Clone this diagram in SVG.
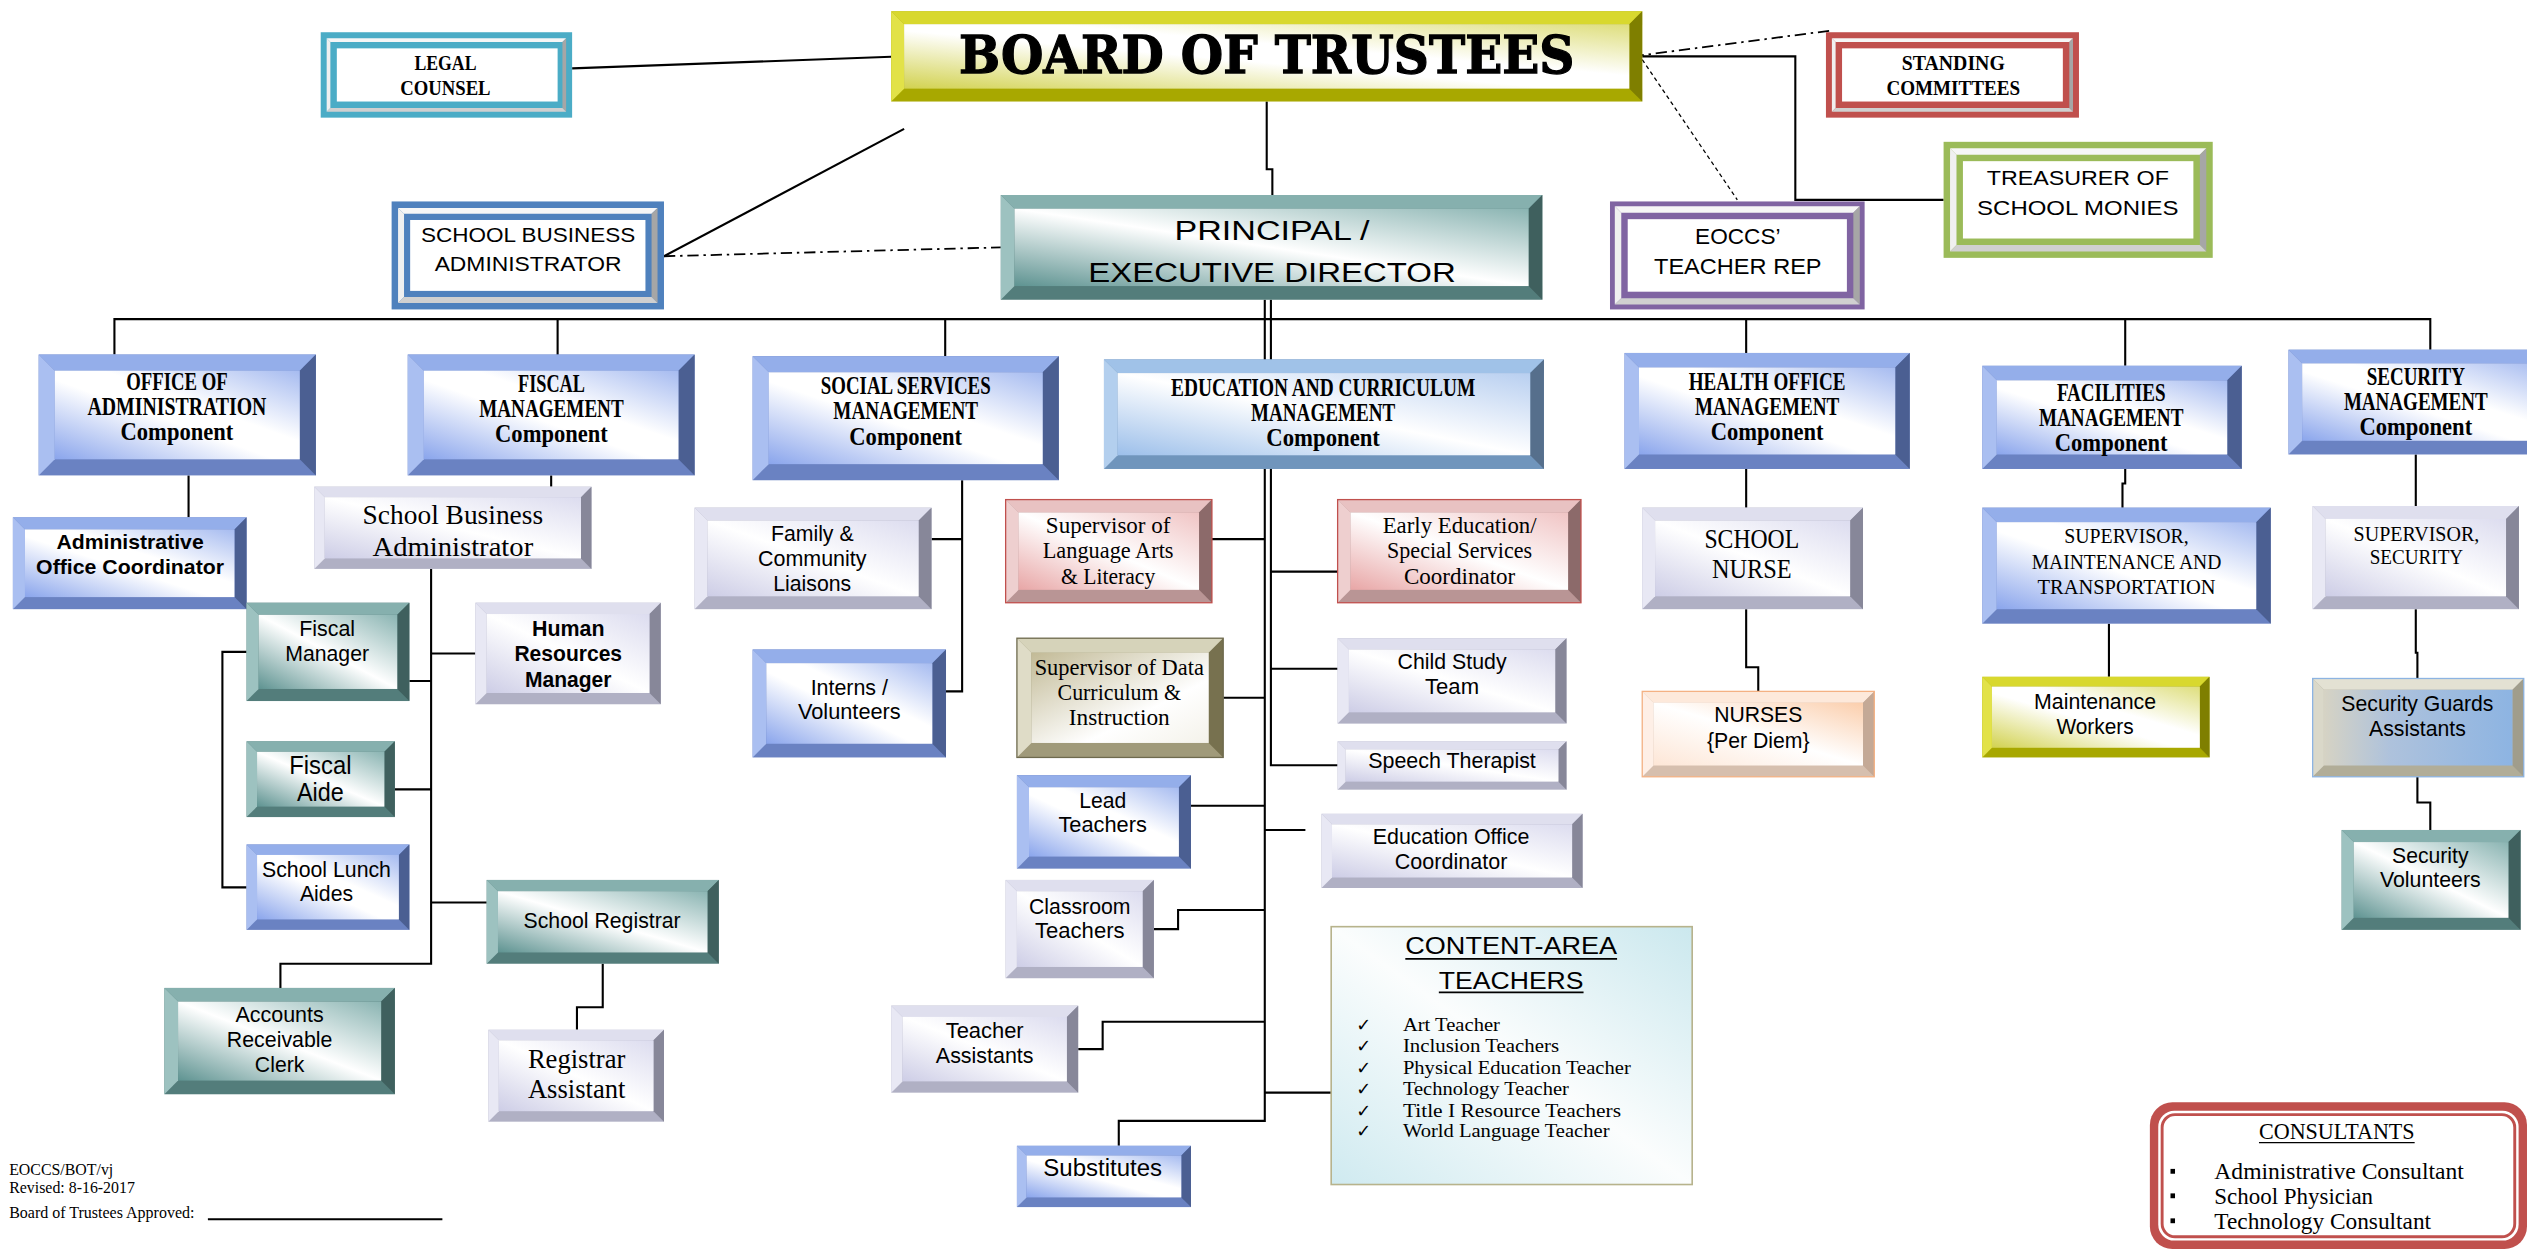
<svg xmlns="http://www.w3.org/2000/svg" width="2527" height="1250" viewBox="0 0 2527 1250">
<defs>
<linearGradient id="gBlue" x1="0" y1="1" x2="1" y2="0"><stop offset="0" stop-color="#8aa5ec"/><stop offset="0.45" stop-color="#ffffff"/><stop offset="0.6" stop-color="#ffffff"/><stop offset="1" stop-color="#a6bbf0"/></linearGradient>
<linearGradient id="gLav" x1="0" y1="1" x2="1" y2="0"><stop offset="0" stop-color="#cdcde6"/><stop offset="0.5" stop-color="#ffffff"/><stop offset="1" stop-color="#dcdcef"/></linearGradient>
<linearGradient id="gTeal" x1="0" y1="1" x2="1" y2="0"><stop offset="0" stop-color="#5e9391"/><stop offset="0.5" stop-color="#ffffff"/><stop offset="1" stop-color="#8ab4b2"/></linearGradient>
<linearGradient id="gPink" x1="0" y1="1" x2="1" y2="0"><stop offset="0" stop-color="#e8a6a6"/><stop offset="0.5" stop-color="#ffffff"/><stop offset="1" stop-color="#f0c4c4"/></linearGradient>
<linearGradient id="gKhaki" x1="0" y1="0" x2="1" y2="1"><stop offset="0" stop-color="#c2ba96"/><stop offset="0.65" stop-color="#ffffff"/><stop offset="1" stop-color="#f4f2ea"/></linearGradient>
<linearGradient id="gYel" x1="0" y1="1" x2="1" y2="0"><stop offset="0" stop-color="#d2d250"/><stop offset="0.45" stop-color="#ffffff"/><stop offset="0.6" stop-color="#ffffff"/><stop offset="1" stop-color="#dede7c"/></linearGradient>
<linearGradient id="gPeach" x1="0" y1="1" x2="1" y2="0"><stop offset="0" stop-color="#fde6d6"/><stop offset="0.5" stop-color="#ffffff"/><stop offset="1" stop-color="#fbceac"/></linearGradient>
<linearGradient id="gGuard" x1="0" y1="0" x2="1" y2="0"><stop offset="0" stop-color="#d6d3c4"/><stop offset="0.35" stop-color="#aec2dc"/><stop offset="1" stop-color="#8db4e2"/></linearGradient>
<linearGradient id="gEdu" x1="0" y1="1" x2="1" y2="0"><stop offset="0" stop-color="#9cbfea"/><stop offset="0.5" stop-color="#ffffff"/><stop offset="1" stop-color="#b8cff0"/></linearGradient>
<linearGradient id="gContent" x1="0" y1="1" x2="1" y2="0"><stop offset="0" stop-color="#cfeaf0"/><stop offset="0.5" stop-color="#fbfdfd"/><stop offset="1" stop-color="#cbe8ee"/></linearGradient>
<style>
.cn{fill:none;stroke:#000;stroke-width:1.3}
.dd{stroke-dasharray:7 3 1.5 3;stroke-width:1.1}
.dt{stroke-dasharray:2.5 2;stroke-width:0.8}
.blue .bg{fill:#6a82c2}.blue .bt{fill:#94aeea}.blue .bl{fill:#aabff1}.blue .br{fill:#4b5f92}.blue .fc{fill:url(#gBlue)}
.lav .bg{fill:#b0b0c4}.lav .bt{fill:#dfdfee}.lav .bl{fill:#e8e8f4}.lav .br{fill:#878799}.lav .fc{fill:url(#gLav)}
.teal .bg{fill:#537d7b}.teal .bt{fill:#86b0ae}.teal .bl{fill:#9dc2c0}.teal .br{fill:#3f605e}.teal .fc{fill:url(#gTeal)}
.pink .bg{fill:#b99595}.pink .bt{fill:#e8c2c2}.pink .bl{fill:#eecfcf}.pink .br{fill:#8c6a6a}.pink .fc{fill:url(#gPink)}.pink .ol{fill:none;stroke:#c0504d;stroke-width:0.8}
.khaki .bg{fill:#a09a7a}.khaki .bt{fill:#d6d3ba}.khaki .bl{fill:#dfdcc7}.khaki .br{fill:#77714f}.khaki .fc{fill:url(#gKhaki)}.khaki .ol{fill:none;stroke:#6e6a4e;stroke-width:0.8}
.yel .bg{fill:#a8a800}.yel .bt{fill:#d8d82e}.yel .bl{fill:#e2e248}.yel .br{fill:#7f7f00}.yel .fc{fill:url(#gYel)}
.peach .bg{fill:#d6bfae}.peach .bt{fill:#fde9db}.peach .bl{fill:#feefe6}.peach .br{fill:#c4a996}.peach .fc{fill:url(#gPeach)}.peach .ol{fill:none;stroke:#f4b183;stroke-width:0.8}
.guard .bg{fill:#b1ad98}.guard .bt{fill:#e3e1d3}.guard .bl{fill:#dad8c9}.guard .br{fill:#a09d8c}.guard .fc{fill:url(#gGuard)}.guard .ol{fill:none;stroke:#8db4e2;stroke-width:0.8}
.edu .bg{fill:#7095bc}.edu .bt{fill:#a0c2e8}.edu .bl{fill:#b3cfee}.edu .br{fill:#566f8c}.edu .fc{fill:url(#gEdu)}
.fr .rt{fill:#f6f6f6}.fr .rl{fill:#f0f0f0}.fr .rr{fill:#a6a6a6}.fr .rb{fill:#d0d0d0}.fr .fw{fill:#ffffff}
text{fill:#000;text-anchor:middle}
.tc{font-family:"Liberation Serif","Times New Roman",serif;font-weight:bold;font-size:15px}
.ts{font-family:"Liberation Sans",Arial,sans-serif;font-size:14px}
.tsb{font-family:"Liberation Sans",Arial,sans-serif;font-size:14px;font-weight:bold}
.tr{font-family:"Liberation Serif","Times New Roman",serif;font-size:14px}
.tl{font-family:"Liberation Sans",Arial,sans-serif;font-size:13px}
.ft{font-family:"Liberation Serif","Times New Roman",serif;font-size:10px;text-anchor:start}
.li{font-family:"Liberation Serif","Times New Roman",serif;font-size:12px;text-anchor:start}
.ck{font-family:"DejaVu Sans",sans-serif;font-size:11px;text-anchor:start}
</style>
</defs>
<rect x="0" y="0" width="2527" height="1250" fill="#ffffff"/>
<g transform="scale(1.6116)">
<g id="connectors">
<path class="cn" d="M355,42.4 L553,35.2"/>
<path class="cn" d="M412,159 L561,80"/>
<path class="cn dd" d="M412,159 L621,153.5"/>
<path class="cn dd" d="M1013,35 L1136,19"/>
<path class="cn dt" d="M1019,37 L1078,124"/>
<path class="cn" d="M1019,35 H1114 V124 H1206"/>
<path class="cn" d="M786,63 V105 H789.5 V121"/>
<path class="cn" d="M784.8,186 V695.5 H694.2 V711"/>
<path class="cn" d="M788.6,186 V474.8 H830"/>
<path class="cn" d="M71,220 V198 H1508 V217"/>
<path class="cn" d="M346,198 V221 M586.5,198 V221 M1083.5,198 V219 M1318.7,198 V227"/>
<path class="cn" d="M117,295 V321"/>
<path class="cn" d="M342,295 V302"/>
<path class="cn" d="M267.5,353 V598 H174 V613"/>
<path class="cn" d="M267.5,422.6 H254 M267.5,405.5 H295 M267.5,489.8 H245 M267.5,560 H302"/>
<path class="cn" d="M153,404.5 H138 V550.6 H153"/>
<path class="cn" d="M374,598 V625 H358 V639"/>
<path class="cn" d="M597,298 V429 H587 M597,334.5 H578"/>
<path class="cn" d="M784.8,334.5 H752 M788.6,354.7 H830 M788.6,415 H830 M784.8,433 H759 M784.8,500 H739 M784.8,515 H810"/>
<path class="cn" d="M784.8,564.7 H731 V576.5 H716"/>
<path class="cn" d="M784.8,634 H684.2 V651 H669"/>
<path class="cn" d="M784.8,678 H826"/>
<path class="cn" d="M1083.5,291 V315 M1083.5,378 V414 H1091 V429"/>
<path class="cn" d="M1318.7,291 V300 H1317 V315 M1308.6,387 V420"/>
<path class="cn" d="M1499,282 V314 M1499,378 V405 H1500 V421 M1500,482 V498 H1508 V515"/>
</g>

<g id="legal-counsel" class="fr">
<rect x="199" y="20" width="156" height="53" fill="#4bacc6"/>
<polygon class="rt" points="202.7,23.7 351.3,23.7 349,26 205,26"/>
<polygon class="rl" points="202.7,23.7 205,26 205,67 202.7,69.3"/>
<polygon class="rr" points="351.3,23.7 351.3,69.3 349,67 349,26"/>
<polygon class="rb" points="202.7,69.3 205,67 349,67 351.3,69.3"/>
<rect class="fw" x="209" y="30" width="137" height="33"/>
<text class="tc" style="font-size:13.5px" x="276.4" y="43.2" textLength="38.5" lengthAdjust="spacingAndGlyphs">LEGAL</text>
<text class="tc" style="font-size:13.5px" x="276.4" y="58.7" textLength="56" lengthAdjust="spacingAndGlyphs">COUNSEL</text>
</g>

<g id="standing-committees" class="fr">
<rect x="1133" y="20" width="157" height="53" fill="#c0504d"/>
<polygon class="rt" points="1136.7,23.7 1286.3,23.7 1284,26 1139,26"/>
<polygon class="rl" points="1136.7,23.7 1139,26 1139,67 1136.7,69.3"/>
<polygon class="rr" points="1286.3,23.7 1286.3,69.3 1284,67 1284,26"/>
<polygon class="rb" points="1136.7,69.3 1139,67 1284,67 1286.3,69.3"/>
<rect class="fw" x="1143" y="30" width="137" height="33"/>
<text class="tc" style="font-size:13.5px" x="1212" y="43.2" textLength="64" lengthAdjust="spacingAndGlyphs">STANDING</text>
<text class="tc" style="font-size:13.5px" x="1212" y="58.7" textLength="83" lengthAdjust="spacingAndGlyphs">COMMITTEES</text>
</g>

<g id="treasurer" class="fr">
<rect x="1206" y="88" width="167" height="72" fill="#9bbb59"/>
<polygon class="rt" points="1210,92 1369,92 1365,96 1214,96"/>
<polygon class="rl" points="1210,92 1214,96 1214,152 1210,156"/>
<polygon class="rr" points="1369,92 1369,156 1365,152 1365,96"/>
<polygon class="rb" points="1210,156 1214,152 1365,152 1369,156"/>
<rect class="fw" x="1218" y="100" width="143" height="48"/>
<text class="tl" x="1289.3" y="114.8" textLength="113" lengthAdjust="spacingAndGlyphs">TREASURER OF</text>
<text class="tl" x="1289.3" y="133.5" textLength="125" lengthAdjust="spacingAndGlyphs">SCHOOL MONIES</text>
</g>

<g id="eoccs-rep" class="fr">
<rect x="999" y="125" width="158" height="67" fill="#8064a2"/>
<polygon class="rt" points="1002,128 1154,128 1150,132 1006,132"/>
<polygon class="rl" points="1002,128 1006,132 1006,185 1002,189"/>
<polygon class="rr" points="1154,128 1154,189 1150,185 1150,132"/>
<polygon class="rb" points="1002,189 1006,185 1150,185 1154,189"/>
<rect class="fw" x="1010" y="136" width="136" height="45"/>
<text class="tl" style="font-size:13.5px" x="1078.3" y="151.2" textLength="53" lengthAdjust="spacingAndGlyphs">EOCCS’</text>
<text class="tl" style="font-size:13.5px" x="1078.3" y="170.3" textLength="104" lengthAdjust="spacingAndGlyphs">TEACHER REP</text>
</g>

<g id="sba-top" class="fr">
<rect x="243" y="125" width="169" height="67" fill="#4f81bd"/>
<polygon class="rt" points="247,129 408,129 404.3,132.7 250.7,132.7"/>
<polygon class="rl" points="247,129 250.7,132.7 250.7,184.3 247,188"/>
<polygon class="rr" points="408,129 408,188 404.3,184.3 404.3,132.7"/>
<polygon class="rb" points="247,188 250.7,184.3 404.3,184.3 408,188"/>
<rect class="fw" x="254.5" y="136.5" width="146" height="44"/>
<text class="tl" x="327.7" y="150.4" textLength="133" lengthAdjust="spacingAndGlyphs">SCHOOL BUSINESS</text>
<text class="tl" x="327.7" y="168" textLength="116" lengthAdjust="spacingAndGlyphs">ADMINISTRATOR</text>
</g>

<g id="board" class="yel">
<rect class="bg" x="553" y="7" width="466" height="56"/>
<polygon class="bt" points="553,7 1019,7 1011,15 561,15"/>
<polygon class="bl" points="553,7 561,15 561,55 553,63"/>
<polygon class="br" points="1019,7 1019,63 1011,55 1011,15"/>
<rect class="fc" x="561" y="15" width="450" height="40"/>
<text x="786" y="45.5" style="font-family:'DejaVu Serif','Liberation Serif',serif;font-weight:bold;font-size:33px;stroke:#000;stroke-width:0.8" textLength="382" lengthAdjust="spacingAndGlyphs">BOARD OF TRUSTEES</text>
</g>

<g id="principal" class="teal">
<rect class="bg" x="621" y="121" width="336" height="65"/>
<polygon class="bt" points="621,121 957,121 948.5,129.5 629.5,129.5"/>
<polygon class="bl" points="621,121 629.5,129.5 629.5,177.5 621,186"/>
<polygon class="br" points="957,121 957,186 948.5,177.5 948.5,129.5"/>
<rect class="fc" x="629.5" y="129.5" width="319" height="48"/>
<text class="tl" style="font-size:17px" x="789.3" y="148.9" textLength="121" lengthAdjust="spacingAndGlyphs">PRINCIPAL /</text>
<text class="tl" style="font-size:17px" x="789.3" y="174.8" textLength="228" lengthAdjust="spacingAndGlyphs">EXECUTIVE DIRECTOR</text>
</g>

<g id="office-admin" class="blue">
<rect class="bg" x="24" y="220" width="172" height="75"/>
<polygon class="bt" points="24,220 196,220 186,230 34,230"/>
<polygon class="bl" points="24,220 34,230 34,285 24,295"/>
<polygon class="br" points="196,220 196,295 186,285 186,230"/>
<rect class="fc" x="34" y="230" width="152" height="55"/>
<text class="tc" x="109.8" y="242.2" textLength="63" lengthAdjust="spacingAndGlyphs">OFFICE OF</text>
<text class="tc" x="109.8" y="257.8" textLength="111" lengthAdjust="spacingAndGlyphs">ADMINISTRATION</text>
<text class="tc" x="109.8" y="273.3" textLength="70" lengthAdjust="spacingAndGlyphs">Component</text>
</g>

<g id="fiscal-mgmt" class="blue">
<rect class="bg" x="253" y="220" width="178" height="75"/>
<polygon class="bt" points="253,220 431,220 421,230 263,230"/>
<polygon class="bl" points="253,220 263,230 263,285 253,295"/>
<polygon class="br" points="431,220 431,295 421,285 421,230"/>
<rect class="fc" x="263" y="230" width="158" height="55"/>
<text class="tc" x="342.2" y="243.5" textLength="41.5" lengthAdjust="spacingAndGlyphs">FISCAL</text>
<text class="tc" x="342.2" y="258.8" textLength="89.6" lengthAdjust="spacingAndGlyphs">MANAGEMENT</text>
<text class="tc" x="342.2" y="274.3" textLength="70" lengthAdjust="spacingAndGlyphs">Component</text>
</g>

<g id="social-services" class="blue">
<rect class="bg" x="467" y="221" width="190" height="77"/>
<polygon class="bt" points="467,221 657,221 647,231 477,231"/>
<polygon class="bl" points="467,221 477,231 477,288 467,298"/>
<polygon class="br" points="657,221 657,298 647,288 647,231"/>
<rect class="fc" x="477" y="231" width="170" height="57"/>
<text class="tc" x="562" y="244.3" textLength="105.4" lengthAdjust="spacingAndGlyphs">SOCIAL SERVICES</text>
<text class="tc" x="562" y="260" textLength="89.8" lengthAdjust="spacingAndGlyphs">MANAGEMENT</text>
<text class="tc" x="562" y="276" textLength="70" lengthAdjust="spacingAndGlyphs">Component</text>
</g>

<g id="education" class="edu">
<rect class="bg" x="685" y="223" width="273" height="68"/>
<polygon class="bt" points="685,223 958,223 949.5,231.5 693.5,231.5"/>
<polygon class="bl" points="685,223 693.5,231.5 693.5,282.5 685,291"/>
<polygon class="br" points="958,223 958,291 949.5,282.5 949.5,231.5"/>
<rect class="fc" x="693.5" y="231.5" width="256" height="51"/>
<text class="tc" x="821" y="246" textLength="188.8" lengthAdjust="spacingAndGlyphs">EDUCATION AND CURRICULUM</text>
<text class="tc" x="821" y="261" textLength="89.4" lengthAdjust="spacingAndGlyphs">MANAGEMENT</text>
<text class="tc" x="821" y="277" textLength="70.5" lengthAdjust="spacingAndGlyphs">Component</text>
</g>

<g id="health-office" class="blue">
<rect class="bg" x="1008" y="219" width="177" height="72"/>
<polygon class="bt" points="1008,219 1185,219 1176,228 1017,228"/>
<polygon class="bl" points="1008,219 1017,228 1017,282 1008,291"/>
<polygon class="br" points="1185,219 1185,291 1176,282 1176,228"/>
<rect class="fc" x="1017" y="228" width="159" height="54"/>
<text class="tc" x="1096.5" y="242.2" textLength="97.4" lengthAdjust="spacingAndGlyphs">HEALTH OFFICE</text>
<text class="tc" x="1096.5" y="257.8" textLength="89.6" lengthAdjust="spacingAndGlyphs">MANAGEMENT</text>
<text class="tc" x="1096.5" y="273.3" textLength="70" lengthAdjust="spacingAndGlyphs">Component</text>
</g>

<g id="facilities" class="blue">
<rect class="bg" x="1230" y="227" width="161" height="64"/>
<polygon class="bt" points="1230,227 1391,227 1382,236 1239,236"/>
<polygon class="bl" points="1230,227 1239,236 1239,282 1230,291"/>
<polygon class="br" points="1391,227 1391,291 1382,282 1382,236"/>
<rect class="fc" x="1239" y="236" width="143" height="46"/>
<text class="tc" x="1310" y="249" textLength="67.4" lengthAdjust="spacingAndGlyphs">FACILITIES</text>
<text class="tc" x="1310" y="264.6" textLength="89.6" lengthAdjust="spacingAndGlyphs">MANAGEMENT</text>
<text class="tc" x="1310" y="280" textLength="70" lengthAdjust="spacingAndGlyphs">Component</text>
</g>

<g id="security-mgmt" class="blue">
<rect class="bg" x="1420" y="217" width="165" height="65"/>
<polygon class="bt" points="1420,217 1585,217 1576.5,225.5 1428.5,225.5"/>
<polygon class="bl" points="1420,217 1428.5,225.5 1428.5,273.5 1420,282"/>
<polygon class="br" points="1585,217 1585,282 1576.5,273.5 1576.5,225.5"/>
<rect class="fc" x="1428.5" y="225.5" width="148" height="48"/>
<text class="tc" x="1499" y="238.7" textLength="61" lengthAdjust="spacingAndGlyphs">SECURITY</text>
<text class="tc" x="1499" y="254.2" textLength="89.2" lengthAdjust="spacingAndGlyphs">MANAGEMENT</text>
<text class="tc" x="1499" y="270.2" textLength="70" lengthAdjust="spacingAndGlyphs">Component</text>
</g>

<g id="admin-office-coord" class="blue">
<rect class="bg" x="8" y="321" width="145" height="57"/>
<polygon class="bt" points="8,321 153,321 145.5,328.5 15.5,328.5"/>
<polygon class="bl" points="8,321 15.5,328.5 15.5,370.5 8,378"/>
<polygon class="br" points="153,321 153,378 145.5,370.5 145.5,328.5"/>
<rect class="fc" x="15.5" y="328.5" width="130" height="42"/>
<text class="tsb" style="font-size:13px" x="80.7" y="340.8" textLength="91.4" lengthAdjust="spacingAndGlyphs">Administrative</text>
<text class="tsb" style="font-size:13px" x="80.7" y="356.3" textLength="116.6" lengthAdjust="spacingAndGlyphs">Office Coordinator</text>
</g>

<g id="school-business-admin" class="lav">
<rect class="bg" x="195" y="302" width="172" height="51"/>
<polygon class="bt" points="195,302 367,302 360.5,308.5 201.5,308.5"/>
<polygon class="bl" points="195,302 201.5,308.5 201.5,346.5 195,353"/>
<polygon class="br" points="367,302 367,353 360.5,346.5 360.5,308.5"/>
<rect class="fc" x="201.5" y="308.5" width="159" height="38"/>
<text class="tr" style="font-size:17px" x="281" y="324.9" textLength="112" lengthAdjust="spacingAndGlyphs">School Business</text>
<text class="tr" style="font-size:17px" x="281" y="345" textLength="99.7" lengthAdjust="spacingAndGlyphs">Administrator</text>
</g>

<g id="fiscal-manager" class="teal">
<rect class="bg" x="153" y="374" width="101" height="61"/>
<polygon class="bt" points="153,374 254,374 246.5,381.5 160.5,381.5"/>
<polygon class="bl" points="153,374 160.5,381.5 160.5,427.5 153,435"/>
<polygon class="br" points="254,374 254,435 246.5,427.5 246.5,381.5"/>
<rect class="fc" x="160.5" y="381.5" width="86" height="46"/>
<text class="ts" x="203" y="394.5" textLength="34.7" lengthAdjust="spacingAndGlyphs">Fiscal</text>
<text class="ts" x="203" y="410.4" textLength="52" lengthAdjust="spacingAndGlyphs">Manager</text>
</g>

<g id="hr-manager" class="lav">
<rect class="bg" x="295" y="374" width="115" height="63"/>
<polygon class="bt" points="295,374 410,374 403,381 302,381"/>
<polygon class="bl" points="295,374 302,381 302,430 295,437"/>
<polygon class="br" points="410,374 410,437 403,430 403,381"/>
<rect class="fc" x="302" y="381" width="101" height="49"/>
<text class="tsb" x="352.6" y="394.5" textLength="45" lengthAdjust="spacingAndGlyphs">Human</text>
<text class="tsb" x="352.6" y="410.4" textLength="66.8" lengthAdjust="spacingAndGlyphs">Resources</text>
<text class="tsb" x="352.6" y="426.3" textLength="53.7" lengthAdjust="spacingAndGlyphs">Manager</text>
</g>

<g id="fiscal-aide" class="teal">
<rect class="bg" x="153" y="460" width="92" height="47"/>
<polygon class="bt" points="153,460 245,460 238.5,466.5 159.5,466.5"/>
<polygon class="bl" points="153,460 159.5,466.5 159.5,500.5 153,507"/>
<polygon class="br" points="245,460 245,507 238.5,500.5 238.5,466.5"/>
<rect class="fc" x="159.5" y="466.5" width="79" height="34"/>
<text class="ts" style="font-size:16px" x="198.8" y="480.4" textLength="38.6" lengthAdjust="spacingAndGlyphs">Fiscal</text>
<text class="ts" style="font-size:16px" x="198.8" y="496.9" textLength="29" lengthAdjust="spacingAndGlyphs">Aide</text>
</g>

<g id="school-lunch-aides" class="blue">
<rect class="bg" x="153" y="524" width="101" height="53"/>
<polygon class="bt" points="153,524 254,524 247.5,530.5 159.5,530.5"/>
<polygon class="bl" points="153,524 159.5,530.5 159.5,570.5 153,577"/>
<polygon class="br" points="254,524 254,577 247.5,570.5 247.5,530.5"/>
<rect class="fc" x="159.5" y="530.5" width="88" height="40"/>
<text class="ts" x="202.6" y="544.2" textLength="80" lengthAdjust="spacingAndGlyphs">School Lunch</text>
<text class="ts" x="202.6" y="558.9" textLength="33" lengthAdjust="spacingAndGlyphs">Aides</text>
</g>

<g id="school-registrar" class="teal">
<rect class="bg" x="302" y="546" width="144" height="52"/>
<polygon class="bt" points="302,546 446,546 439,553 309,553"/>
<polygon class="bl" points="302,546 309,553 309,591 302,598"/>
<polygon class="br" points="446,546 446,598 439,591 439,553"/>
<rect class="fc" x="309" y="553" width="130" height="38"/>
<text class="ts" x="373.6" y="575.9" textLength="97.5" lengthAdjust="spacingAndGlyphs">School Registrar</text>
</g>

<g id="registrar-assistant" class="lav">
<rect class="bg" x="303" y="639" width="109" height="57"/>
<polygon class="bt" points="303,639 412,639 405.5,645.5 309.5,645.5"/>
<polygon class="bl" points="303,639 309.5,645.5 309.5,689.5 303,696"/>
<polygon class="br" points="412,639 412,696 405.5,689.5 405.5,645.5"/>
<rect class="fc" x="309.5" y="645.5" width="96" height="44"/>
<text class="tr" style="font-size:17px" x="357.8" y="662.5" textLength="60.5" lengthAdjust="spacingAndGlyphs">Registrar</text>
<text class="tr" style="font-size:17px" x="357.8" y="681.1" textLength="60.5" lengthAdjust="spacingAndGlyphs">Assistant</text>
</g>

<g id="accounts-receivable" class="teal">
<rect class="bg" x="102" y="613" width="143" height="66"/>
<polygon class="bt" points="102,613 245,613 236.5,621.5 110.5,621.5"/>
<polygon class="bl" points="102,613 110.5,621.5 110.5,670.5 102,679"/>
<polygon class="br" points="245,613 245,679 236.5,670.5 236.5,621.5"/>
<rect class="fc" x="110.5" y="621.5" width="126" height="49"/>
<text class="ts" x="173.5" y="634.2" textLength="54.8" lengthAdjust="spacingAndGlyphs">Accounts</text>
<text class="ts" x="173.5" y="649.7" textLength="65.5" lengthAdjust="spacingAndGlyphs">Receivable</text>
<text class="ts" x="173.5" y="665.2" textLength="30.7" lengthAdjust="spacingAndGlyphs">Clerk</text>
</g>

<g id="family-liaisons" class="lav">
<rect class="bg" x="431" y="315" width="147" height="63"/>
<polygon class="bt" points="431,315 578,315 570,323 439,323"/>
<polygon class="bl" points="431,315 439,323 439,370 431,378"/>
<polygon class="br" points="578,315 578,378 570,370 570,323"/>
<rect class="fc" x="439" y="323" width="131" height="47"/>
<text class="ts" style="font-size:13.5px" x="504" y="335.7" textLength="51.3" lengthAdjust="spacingAndGlyphs">Family &amp;</text>
<text class="ts" style="font-size:13.5px" x="504" y="351.2" textLength="67.3" lengthAdjust="spacingAndGlyphs">Community</text>
<text class="ts" style="font-size:13.5px" x="504" y="366.7" textLength="48.4" lengthAdjust="spacingAndGlyphs">Liaisons</text>
</g>

<g id="interns" class="blue">
<rect class="bg" x="467" y="403" width="120" height="67"/>
<polygon class="bt" points="467,403 587,403 578.5,411.5 475.5,411.5"/>
<polygon class="bl" points="467,403 475.5,411.5 475.5,461.5 467,470"/>
<polygon class="br" points="587,403 587,470 578.5,461.5 578.5,411.5"/>
<rect class="fc" x="475.5" y="411.5" width="103" height="50"/>
<text class="ts" style="font-size:13.5px" x="527" y="431.5" textLength="48" lengthAdjust="spacingAndGlyphs">Interns /</text>
<text class="ts" style="font-size:13.5px" x="527" y="446.4" textLength="63.8" lengthAdjust="spacingAndGlyphs">Volunteers</text>
</g>

<g id="sup-language-arts" class="pink">
<rect class="bg" x="624" y="310" width="128" height="64"/>
<polygon class="bt" points="624,310 752,310 744,318 632,318"/>
<polygon class="bl" points="624,310 632,318 632,366 624,374"/>
<polygon class="br" points="752,310 752,374 744,366 744,318"/>
<rect class="fc" x="632" y="318" width="112" height="48"/>
<rect class="ol" x="624" y="310" width="128" height="64"/>
<text class="tr" x="687.6" y="331" textLength="77.3" lengthAdjust="spacingAndGlyphs">Supervisor of</text>
<text class="tr" x="687.6" y="346.5" textLength="81.2" lengthAdjust="spacingAndGlyphs">Language Arts</text>
<text class="tr" x="687.6" y="362.6" textLength="58.4" lengthAdjust="spacingAndGlyphs">&amp; Literacy</text>
</g>

<g id="early-education" class="pink">
<rect class="bg" x="830" y="310" width="151" height="64"/>
<polygon class="bt" points="830,310 981,310 973,318 838,318"/>
<polygon class="bl" points="830,310 838,318 838,366 830,374"/>
<polygon class="br" points="981,310 981,374 973,366 973,318"/>
<rect class="fc" x="838" y="318" width="135" height="48"/>
<rect class="ol" x="830" y="310" width="151" height="64"/>
<text class="tr" x="905.7" y="331" textLength="95.5" lengthAdjust="spacingAndGlyphs">Early Education/</text>
<text class="tr" x="905.7" y="346.5" textLength="90" lengthAdjust="spacingAndGlyphs">Special Services</text>
<text class="tr" x="905.7" y="362.6" textLength="69" lengthAdjust="spacingAndGlyphs">Coordinator</text>
</g>

<g id="sup-data" class="khaki">
<rect class="bg" x="631" y="396" width="128" height="74"/>
<polygon class="bt" points="631,396 759,396 750,405 640,405"/>
<polygon class="bl" points="631,396 640,405 640,461 631,470"/>
<polygon class="br" points="759,396 759,470 750,461 750,405"/>
<rect class="fc" x="640" y="405" width="110" height="56"/>
<rect class="ol" x="631" y="396" width="128" height="74"/>
<text class="tr" x="694.5" y="418.9" textLength="105" lengthAdjust="spacingAndGlyphs">Supervisor of Data</text>
<text class="tr" x="694.5" y="434.4" textLength="76.6" lengthAdjust="spacingAndGlyphs">Curriculum &amp;</text>
<text class="tr" x="694.5" y="449.9" textLength="62.7" lengthAdjust="spacingAndGlyphs">Instruction</text>
</g>

<g id="child-study" class="lav">
<rect class="bg" x="830" y="396" width="142" height="53"/>
<polygon class="bt" points="830,396 972,396 965,403 837,403"/>
<polygon class="bl" points="830,396 837,403 837,442 830,449"/>
<polygon class="br" points="972,396 972,449 965,442 965,403"/>
<rect class="fc" x="837" y="403" width="128" height="39"/>
<text class="ts" style="font-size:13.5px" x="901" y="415.4" textLength="67.7" lengthAdjust="spacingAndGlyphs">Child Study</text>
<text class="ts" style="font-size:13.5px" x="901" y="430.9" textLength="33.5" lengthAdjust="spacingAndGlyphs">Team</text>
</g>

<g id="speech-therapist" class="lav">
<rect class="bg" x="830" y="460" width="142" height="30"/>
<polygon class="bt" points="830,460 972,460 967,465 835,465"/>
<polygon class="bl" points="830,460 835,465 835,485 830,490"/>
<polygon class="br" points="972,460 972,490 967,485 967,465"/>
<rect class="fc" x="835" y="465" width="132" height="20"/>
<text class="ts" style="font-size:13.5px" x="901" y="476.4" textLength="104" lengthAdjust="spacingAndGlyphs">Speech Therapist</text>
</g>

<g id="lead-teachers" class="blue">
<rect class="bg" x="631" y="481" width="108" height="58"/>
<polygon class="bt" points="631,481 739,481 731.5,488.5 638.5,488.5"/>
<polygon class="bl" points="631,481 638.5,488.5 638.5,531.5 631,539"/>
<polygon class="br" points="739,481 739,539 731.5,531.5 731.5,488.5"/>
<rect class="fc" x="638.5" y="488.5" width="93" height="43"/>
<text class="ts" style="font-size:13.5px" x="684.2" y="501.6" textLength="29.2" lengthAdjust="spacingAndGlyphs">Lead</text>
<text class="ts" style="font-size:13.5px" x="684.2" y="516.3" textLength="54.9" lengthAdjust="spacingAndGlyphs">Teachers</text>
</g>

<g id="education-office-coord" class="lav">
<rect class="bg" x="820" y="505" width="162" height="46"/>
<polygon class="bt" points="820,505 982,505 975.5,511.5 826.5,511.5"/>
<polygon class="bl" points="820,505 826.5,511.5 826.5,544.5 820,551"/>
<polygon class="br" points="982,505 982,551 975.5,544.5 975.5,511.5"/>
<rect class="fc" x="826.5" y="511.5" width="149" height="33"/>
<text class="ts" style="font-size:13.5px" x="900.4" y="524" textLength="97.2" lengthAdjust="spacingAndGlyphs">Education Office</text>
<text class="ts" style="font-size:13.5px" x="900.4" y="539.1" textLength="69.8" lengthAdjust="spacingAndGlyphs">Coordinator</text>
</g>

<g id="classroom-teachers" class="lav">
<rect class="bg" x="624" y="546" width="92" height="61"/>
<polygon class="bt" points="624,546 716,546 709,553 631,553"/>
<polygon class="bl" points="624,546 631,553 631,600 624,607"/>
<polygon class="br" points="716,546 716,607 709,600 709,553"/>
<rect class="fc" x="631" y="553" width="78" height="47"/>
<text class="ts" style="font-size:13.5px" x="670" y="567" textLength="63" lengthAdjust="spacingAndGlyphs">Classroom</text>
<text class="ts" style="font-size:13.5px" x="670" y="581.8" textLength="55.6" lengthAdjust="spacingAndGlyphs">Teachers</text>
</g>

<g id="teacher-assistants" class="lav">
<rect class="bg" x="553" y="624" width="116" height="54"/>
<polygon class="bt" points="553,624 669,624 662,631 560,631"/>
<polygon class="bl" points="553,624 560,631 560,671 553,678"/>
<polygon class="br" points="669,624 669,678 662,671 662,631"/>
<rect class="fc" x="560" y="631" width="102" height="40"/>
<text class="ts" style="font-size:13.5px" x="611" y="643.9" textLength="48.4" lengthAdjust="spacingAndGlyphs">Teacher</text>
<text class="ts" style="font-size:13.5px" x="611" y="659.4" textLength="60.6" lengthAdjust="spacingAndGlyphs">Assistants</text>
</g>

<g id="substitutes" class="blue">
<rect class="bg" x="631" y="711" width="108" height="38"/>
<polygon class="bt" points="631,711 739,711 733,717 637,717"/>
<polygon class="bl" points="631,711 637,717 637,743 631,749"/>
<polygon class="br" points="739,711 739,749 733,743 733,717"/>
<rect class="fc" x="637" y="717" width="96" height="26"/>
<text class="ts" style="font-size:14.5px" x="684.2" y="730" textLength="73.7" lengthAdjust="spacingAndGlyphs">Substitutes</text>
</g>

<g id="content-area-teachers">
<rect x="826" y="575" width="224" height="160" fill="url(#gContent)" stroke="#b7b38c" stroke-width="1"/>
<text class="ts" style="font-size:15px" x="937.7" y="592.1" textLength="131.4" lengthAdjust="spacingAndGlyphs">CONTENT-AREA</text>
<line x1="872" y1="595" x2="1003.4" y2="595" stroke="#000" stroke-width="1"/>
<text class="ts" style="font-size:15px" x="937.7" y="613.4" textLength="89.8" lengthAdjust="spacingAndGlyphs">TEACHERS</text>
<line x1="892.8" y1="615.8" x2="982.6" y2="615.8" stroke="#000" stroke-width="1"/>
<text class="ck" x="841.5" y="640">✓</text>
<text class="ck" x="841.5" y="652.8">✓</text>
<text class="ck" x="841.5" y="666.3">✓</text>
<text class="ck" x="841.5" y="679.7">✓</text>
<text class="ck" x="841.5" y="692.8">✓</text>
<text class="ck" x="841.5" y="705.6">✓</text>
<text class="li" x="870.5" y="640" textLength="60.2" lengthAdjust="spacingAndGlyphs">Art Teacher</text>
<text class="li" x="870.5" y="652.8" textLength="96.9" lengthAdjust="spacingAndGlyphs">Inclusion Teachers</text>
<text class="li" x="870.5" y="666.3" textLength="141.4" lengthAdjust="spacingAndGlyphs">Physical Education Teacher</text>
<text class="li" x="870.5" y="679.7" textLength="103" lengthAdjust="spacingAndGlyphs">Technology Teacher</text>
<text class="li" x="870.5" y="692.8" textLength="135.4" lengthAdjust="spacingAndGlyphs">Title  I  Resource Teachers</text>
<text class="li" x="870.5" y="705.6" textLength="128.2" lengthAdjust="spacingAndGlyphs">World Language Teacher</text>
</g>

<g id="school-nurse" class="lav">
<rect class="bg" x="1019" y="315" width="137" height="63"/>
<polygon class="bt" points="1019,315 1156,315 1148,323 1027,323"/>
<polygon class="bl" points="1019,315 1027,323 1027,370 1019,378"/>
<polygon class="br" points="1156,315 1156,378 1148,370 1148,323"/>
<rect class="fc" x="1027" y="323" width="121" height="47"/>
<text class="tr" style="font-size:17px" x="1087" y="339.8" textLength="58.8" lengthAdjust="spacingAndGlyphs">SCHOOL</text>
<text class="tr" style="font-size:17px" x="1087" y="358.8" textLength="49.5" lengthAdjust="spacingAndGlyphs">NURSE</text>
</g>

<g id="nurses" class="peach">
<rect class="bg" x="1019" y="429" width="144" height="53"/>
<polygon class="bt" points="1019,429 1163,429 1156,436 1026,436"/>
<polygon class="bl" points="1019,429 1026,436 1026,475 1019,482"/>
<polygon class="br" points="1163,429 1163,482 1156,475 1156,436"/>
<rect class="fc" x="1026" y="436" width="130" height="39"/>
<rect class="ol" x="1019" y="429" width="144" height="53"/>
<text class="ts" x="1091" y="448" textLength="54.7" lengthAdjust="spacingAndGlyphs">NURSES</text>
<text class="ts" x="1091" y="464" textLength="63.7" lengthAdjust="spacingAndGlyphs">{Per Diem}</text>
</g>

<g id="sup-maintenance" class="blue">
<rect class="bg" x="1230" y="315" width="179" height="72"/>
<polygon class="bt" points="1230,315 1409,315 1400,324 1239,324"/>
<polygon class="bl" points="1230,315 1239,324 1239,378 1230,387"/>
<polygon class="br" points="1409,315 1409,387 1400,378 1400,324"/>
<rect class="fc" x="1239" y="324" width="161" height="54"/>
<text class="tr" style="font-size:13.5px" x="1319.5" y="337.1" textLength="77.2" lengthAdjust="spacingAndGlyphs">SUPERVISOR,</text>
<text class="tr" style="font-size:13.5px" x="1319.5" y="353.2" textLength="117.7" lengthAdjust="spacingAndGlyphs">MAINTENANCE AND</text>
<text class="tr" style="font-size:13.5px" x="1319.5" y="368.7" textLength="110.5" lengthAdjust="spacingAndGlyphs">TRANSPORTATION</text>
</g>

<g id="maintenance-workers" class="yel">
<rect class="bg" x="1230" y="420" width="141" height="50"/>
<polygon class="bt" points="1230,420 1371,420 1365,426 1236,426"/>
<polygon class="bl" points="1230,420 1236,426 1236,464 1230,470"/>
<polygon class="br" points="1371,420 1371,470 1365,464 1365,426"/>
<rect class="fc" x="1236" y="426" width="129" height="38"/>
<text class="ts" x="1300" y="440" textLength="75.7" lengthAdjust="spacingAndGlyphs">Maintenance</text>
<text class="ts" x="1300" y="455.5" textLength="48" lengthAdjust="spacingAndGlyphs">Workers</text>
</g>

<g id="sup-security" class="lav">
<rect class="bg" x="1435" y="314" width="128" height="64"/>
<polygon class="bt" points="1435,314 1563,314 1555,322 1443,322"/>
<polygon class="bl" points="1435,314 1443,322 1443,370 1435,378"/>
<polygon class="br" points="1563,314 1563,378 1555,370 1555,322"/>
<rect class="fc" x="1443" y="322" width="112" height="48"/>
<text class="tr" style="font-size:13.5px" x="1499.4" y="335.7" textLength="78" lengthAdjust="spacingAndGlyphs">SUPERVISOR,</text>
<text class="tr" style="font-size:13.5px" x="1499.4" y="350.1" textLength="58" lengthAdjust="spacingAndGlyphs">SECURITY</text>
</g>

<g id="security-guards" class="guard">
<rect class="bg" x="1435" y="421" width="131" height="61"/>
<polygon class="bt" points="1435,421 1566,421 1559,428 1442,428"/>
<polygon class="bl" points="1435,421 1442,428 1442,475 1435,482"/>
<polygon class="br" points="1566,421 1566,482 1559,475 1559,428"/>
<rect class="fc" x="1442" y="428" width="117" height="47"/>
<rect class="ol" x="1435" y="421" width="131" height="61"/>
<text class="ts" x="1500" y="441" textLength="94.4" lengthAdjust="spacingAndGlyphs">Security Guards</text>
<text class="ts" x="1500" y="456.5" textLength="60" lengthAdjust="spacingAndGlyphs">Assistants</text>
</g>

<g id="security-volunteers" class="teal">
<rect class="bg" x="1453" y="515" width="111" height="62"/>
<polygon class="bt" points="1453,515 1564,515 1556.5,522.5 1460.5,522.5"/>
<polygon class="bl" points="1453,515 1460.5,522.5 1460.5,569.5 1453,577"/>
<polygon class="br" points="1564,515 1564,577 1556.5,569.5 1556.5,522.5"/>
<rect class="fc" x="1460.5" y="522.5" width="96" height="47"/>
<text class="ts" x="1508" y="535.5" textLength="47.5" lengthAdjust="spacingAndGlyphs">Security</text>
<text class="ts" x="1508" y="550.6" textLength="62.5" lengthAdjust="spacingAndGlyphs">Volunteers</text>
</g>

<g id="consultants">
<rect x="1334" y="684" width="234" height="91" rx="14" fill="#c0504d"/>
<rect x="1339.2" y="689.2" width="223.6" height="80.6" rx="10" fill="#ffffff"/>
<rect x="1341.6" y="691.6" width="218.8" height="75.8" rx="8" fill="#ffffff" stroke="#c0504d" stroke-width="1.8"/>
<text class="tr" x="1450" y="707" textLength="96.6" lengthAdjust="spacingAndGlyphs">CONSULTANTS</text>
<line x1="1401.7" y1="709" x2="1498.3" y2="709" stroke="#000" stroke-width="0.9"/>
<rect x="1346.8" y="725.3" width="2.8" height="3" fill="#000"/>
<rect x="1346.8" y="740.5" width="2.8" height="3" fill="#000"/>
<rect x="1346.8" y="756" width="2.8" height="3" fill="#000"/>
<text class="tr" style="text-anchor:start" x="1374" y="731.7" textLength="154.8" lengthAdjust="spacingAndGlyphs">Administrative Consultant</text>
<text class="tr" style="text-anchor:start" x="1374" y="746.9" textLength="98.5" lengthAdjust="spacingAndGlyphs">School Physician</text>
<text class="tr" style="text-anchor:start" x="1374" y="762.4" textLength="134.5" lengthAdjust="spacingAndGlyphs">Technology Consultant</text>
</g>

<g id="footer">
<text class="ft" x="5.7" y="729" textLength="64.6" lengthAdjust="spacingAndGlyphs">EOCCS/BOT/vj</text>
<text class="ft" x="5.7" y="740.2" textLength="78" lengthAdjust="spacingAndGlyphs">Revised: 8-16-2017</text>
<text class="ft" x="5.7" y="755.9" textLength="115" lengthAdjust="spacingAndGlyphs">Board of Trustees Approved:</text>
<line x1="129" y1="756.6" x2="274.5" y2="756.6" stroke="#000" stroke-width="1.2"/>
</g>
</g>
</svg>
